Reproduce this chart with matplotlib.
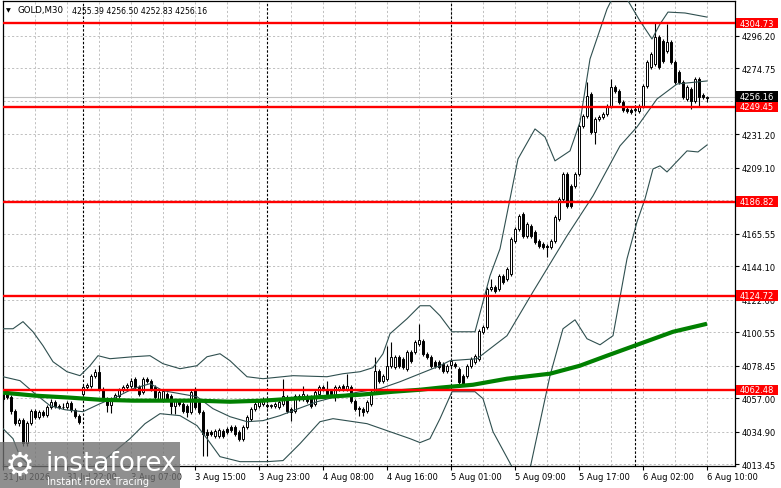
import numpy as np
import matplotlib
matplotlib.use("Agg")
import matplotlib.pyplot as plt
import matplotlib.transforms as mtransforms
from matplotlib.patches import Rectangle

plt.rcParams['font.family'] = ['DejaVu Sans']

# Dados das velas (GOLD M30), barra 0 = 31 Jul 14:00, barra 176 = 6 Aug 10:00
opens = [4056.6, 4059.9, 4057.9, 4048.7, 4040.8, 4042.7, 4027.6, 4040.8, 4048.7, 4044.7,
         4048.0, 4046.0, 4051.3, 4054.6, 4052.0, 4051.3, 4051.3, 4054.0, 4049.3, 4045.4,
         4059.9, 4064.5, 4065.2, 4071.8, 4074.4, 4063.2, 4056.6, 4052.6, 4056.6, 4058.6,
         4062.5, 4064.5, 4065.2, 4069.8, 4064.5, 4061.2, 4069.8, 4068.5, 4064.5, 4056.6,
         4055.9, 4059.9, 4058.6, 4052.0, 4055.3, 4053.3, 4052.0, 4048.0, 4063.2, 4054.6,
         4048.0, 4034.8, 4034.8, 4032.2, 4032.2, 4035.5, 4036.8, 4038.1, 4038.1, 4034.8,
         4030.2, 4038.1, 4043.4, 4050.0, 4052.0, 4053.3, 4052.6, 4052.0, 4052.0, 4051.3,
         4053.3, 4057.9, 4050.0, 4048.7, 4058.6, 4056.6, 4058.6, 4057.9, 4053.3, 4059.9,
         4064.5, 4063.2, 4061.9, 4057.9, 4063.2, 4065.2, 4063.2, 4064.5, 4055.3, 4050.7,
         4050.0, 4048.7, 4053.3, 4061.2, 4075.1, 4068.5, 4069.8, 4078.4, 4077.7, 4084.3,
         4083.0, 4076.4, 4087.6, 4087.6, 4092.9, 4094.9, 4086.3, 4084.3, 4081.0, 4081.0,
         4079.7, 4075.1, 4079.0, 4079.7, 4076.4, 4071.8, 4071.8, 4078.4, 4081.0, 4083.0,
         4100.8, 4104.1, 4129.2, 4130.5, 4129.2, 4137.8, 4135.8, 4139.1, 4160.9, 4168.8,
         4178.7, 4164.2, 4170.8, 4166.8, 4160.9, 4158.9, 4157.6, 4156.9, 4160.9, 4175.4,
         4188.6, 4205.1, 4197.2, 4197.2, 4205.1, 4236.8, 4243.4, 4257.9, 4232.8, 4241.4,
         4242.7, 4244.7, 4250.0, 4262.5, 4259.9, 4252.6, 4248.0, 4247.3, 4247.3, 4246.7,
         4250.0, 4263.2, 4275.7, 4277.7, 4295.5, 4292.9, 4286.3, 4292.2, 4279.0, 4272.4,
         4265.8, 4254.6, 4261.2, 4253.3, 4267.8, 4257.2, 4255.39]
closes = [4059.9, 4057.9, 4048.7, 4040.8, 4042.7, 4027.6, 4040.8, 4048.7, 4044.7, 4048.0,
          4046.0, 4051.3, 4054.6, 4052.0, 4051.3, 4051.3, 4054.0, 4049.3, 4045.4, 4041.4,
          4064.5, 4065.8, 4071.8, 4074.4, 4063.2, 4056.6, 4052.6, 4056.6, 4059.2, 4062.5,
          4064.5, 4065.8, 4068.5, 4064.5, 4059.9, 4069.8, 4068.5, 4063.2, 4057.9, 4061.2,
          4061.9, 4056.6, 4052.0, 4055.3, 4053.3, 4048.7, 4048.0, 4061.2, 4051.3, 4048.0,
          4033.5, 4032.8, 4033.5, 4035.5, 4036.1, 4032.2, 4034.8, 4036.1, 4033.5, 4030.2,
          4038.1, 4044.7, 4050.0, 4053.3, 4054.6, 4056.6, 4052.0, 4052.3, 4053.3, 4054.6,
          4058.6, 4048.7, 4048.0, 4058.6, 4056.6, 4059.9, 4055.3, 4052.0, 4061.2, 4064.5,
          4063.2, 4059.9, 4059.9, 4064.5, 4064.5, 4063.2, 4065.2, 4055.3, 4050.0, 4050.0,
          4048.0, 4054.6, 4061.2, 4075.1, 4068.5, 4071.8, 4078.4, 4084.3, 4084.3, 4078.4,
          4077.7, 4087.6, 4081.7, 4094.2, 4095.5, 4086.3, 4084.3, 4078.4, 4078.4, 4077.7,
          4075.1, 4078.4, 4081.7, 4078.4, 4067.8, 4066.5, 4078.4, 4083.0, 4085.0, 4101.5,
          4104.1, 4129.2, 4130.5, 4127.9, 4137.8, 4133.8, 4142.4, 4162.2, 4168.8, 4177.4,
          4164.2, 4172.1, 4164.2, 4160.2, 4157.6, 4156.9, 4156.9, 4160.9, 4176.7, 4188.6,
          4205.1, 4184.0, 4184.0, 4205.1, 4236.8, 4243.4, 4256.6, 4232.8, 4241.4, 4242.7,
          4244.7, 4250.0, 4262.5, 4259.9, 4252.6, 4247.3, 4246.7, 4246.0, 4248.0, 4250.0,
          4263.2, 4279.0, 4284.3, 4295.5, 4275.7, 4279.7, 4292.2, 4279.0, 4265.8, 4265.8,
          4255.9, 4262.5, 4253.3, 4267.8, 4255.9, 4255.9, 4256.16]
highs = [4061.9, 4061.2, 4059.2, 4050.0, 4044.1, 4044.1, 4042.1, 4050.0, 4050.0, 4049.3,
         4049.3, 4052.6, 4056.6, 4055.9, 4053.3, 4054.0, 4055.3, 4055.3, 4050.7, 4046.7,
         4065.8, 4067.2, 4073.1, 4076.4, 4079.0, 4064.5, 4057.9, 4057.9, 4060.6, 4063.9,
         4065.8, 4067.2, 4070.5, 4071.1, 4065.8, 4071.1, 4071.1, 4069.8, 4065.8, 4062.5,
         4063.2, 4061.2, 4059.9, 4056.6, 4056.6, 4054.6, 4053.3, 4062.5, 4064.5, 4055.9,
         4049.3, 4036.8, 4036.1, 4036.8, 4037.5, 4036.8, 4038.1, 4039.4, 4039.4, 4036.1,
         4039.4, 4046.0, 4051.3, 4054.6, 4055.9, 4057.9, 4054.0, 4053.3, 4054.6, 4055.9,
         4069.8, 4059.2, 4051.3, 4059.9, 4059.9, 4065.2, 4059.9, 4059.2, 4062.5, 4065.8,
         4065.8, 4068.5, 4063.2, 4065.8, 4065.8, 4066.5, 4073.1, 4065.8, 4056.6, 4052.0,
         4051.3, 4055.9, 4062.5, 4084.3, 4076.4, 4073.1, 4091.6, 4094.2, 4085.6, 4085.6,
         4084.3, 4088.9, 4088.9, 4095.5, 4106.1, 4096.2, 4087.6, 4085.6, 4082.3, 4082.3,
         4081.0, 4079.7, 4083.0, 4081.0, 4077.7, 4073.1, 4079.7, 4084.3, 4086.3, 4102.8,
         4105.4, 4130.5, 4135.8, 4131.8, 4139.1, 4139.1, 4143.7, 4163.5, 4170.1, 4178.7,
         4180.0, 4173.4, 4172.1, 4168.1, 4162.2, 4160.2, 4158.9, 4162.2, 4178.0, 4189.9,
         4206.4, 4206.4, 4198.5, 4206.4, 4238.1, 4244.7, 4265.8, 4259.2, 4242.7, 4244.0,
         4246.0, 4251.3, 4267.8, 4263.8, 4261.2, 4253.9, 4249.3, 4248.7, 4249.3, 4251.3,
         4264.5, 4280.3, 4285.6, 4305.4, 4296.8, 4294.2, 4304.1, 4293.5, 4280.3, 4273.7,
         4267.1, 4263.8, 4262.5, 4269.1, 4269.1, 4258.6, 4256.50]
lows = [4054.6, 4056.6, 4046.7, 4039.4, 4038.8, 4025.6, 4025.6, 4039.4, 4043.4, 4043.4,
        4044.7, 4044.7, 4050.0, 4050.7, 4050.0, 4050.0, 4050.0, 4048.0, 4044.1, 4040.1,
        4058.6, 4063.2, 4063.9, 4070.5, 4061.9, 4055.3, 4048.0, 4047.4, 4055.3, 4057.3,
        4061.2, 4063.2, 4063.9, 4063.2, 4058.6, 4059.9, 4067.2, 4061.9, 4056.6, 4055.3,
        4054.6, 4055.3, 4046.7, 4046.7, 4052.0, 4047.4, 4044.7, 4046.7, 4050.0, 4046.7,
        4019.0, 4019.0, 4032.2, 4030.9, 4030.9, 4030.9, 4033.5, 4034.8, 4032.2, 4028.9,
        4028.9, 4036.8, 4042.1, 4048.7, 4050.7, 4052.0, 4050.7, 4050.7, 4050.7, 4050.0,
        4052.0, 4047.4, 4042.1, 4047.4, 4055.3, 4055.3, 4054.0, 4050.7, 4052.0, 4058.6,
        4061.9, 4058.6, 4058.6, 4055.3, 4061.9, 4061.9, 4061.9, 4054.0, 4048.7, 4045.4,
        4045.4, 4047.4, 4052.0, 4059.9, 4067.2, 4067.2, 4068.5, 4077.1, 4076.4, 4077.1,
        4076.4, 4075.1, 4080.4, 4086.3, 4091.6, 4085.0, 4083.0, 4077.1, 4077.1, 4076.4,
        4073.8, 4073.8, 4077.7, 4077.1, 4066.5, 4065.2, 4070.5, 4077.1, 4079.7, 4081.7,
        4099.5, 4102.8, 4127.9, 4126.6, 4127.9, 4132.5, 4134.5, 4137.8, 4159.6, 4167.5,
        4162.9, 4162.9, 4162.9, 4158.9, 4156.3, 4155.6, 4150.3, 4155.6, 4159.6, 4174.1,
        4187.3, 4182.7, 4182.7, 4195.9, 4203.8, 4235.5, 4242.1, 4231.5, 4224.9, 4240.1,
        4241.4, 4243.4, 4248.7, 4258.6, 4251.3, 4246.0, 4245.4, 4244.7, 4246.0, 4245.4,
        4248.7, 4261.9, 4274.4, 4276.4, 4274.4, 4278.4, 4285.0, 4277.7, 4264.5, 4264.5,
        4254.6, 4253.3, 4248.0, 4252.0, 4249.3, 4254.6, 4252.83]

bb_up_x = [0, 2.5, 5, 7.5, 10, 12.5, 16, 19.25, 21.75, 23.75, 26.75, 32.5, 36.75, 40, 44.25,
           48.5, 51, 54.25, 56.75, 61, 65, 72.5, 81, 85, 89.25, 92.5, 95, 96.75, 101, 104.25,
           106.75, 109.25, 112.25, 118, 121.75, 124.25, 128.75, 133, 135.5, 138, 141.75,
           144.25, 146.75, 151, 153.5, 156, 159.25, 162.25, 164.25, 166.25, 170.5, 176]
bb_up = [4102.8, 4102.8, 4107.5, 4100.8, 4091.6, 4081.0, 4074.4, 4071.8, 4078.4, 4085.0,
         4083.0, 4084.3, 4085.0, 4079.7, 4076.4, 4078.4, 4084.3, 4086.3, 4081.7, 4071.1,
         4069.8, 4071.8, 4071.1, 4073.1, 4074.4, 4077.1, 4086.3, 4099.5, 4109.4, 4118.0,
         4118.0, 4111.4, 4100.8, 4100.8, 4137.8, 4155.6, 4215.0, 4234.8, 4229.5, 4213.7,
         4220.3, 4239.4, 4281.0, 4314.0, 4327.2, 4320.6, 4306.1, 4294.2, 4304.1, 4312.0,
         4311.4, 4308.7]
bb_mid_x = [0, 4.25, 8, 11.75, 15.5, 20, 24.25, 28.5, 32.5, 36.75, 40, 44.25, 48.5, 52.5,
            56.75, 61, 65, 69.25, 72.5, 78.5, 84.25, 89.25, 94.25, 99.25, 104.25, 109.25,
            111.75, 118.5, 121.75, 126, 132.5, 141, 147.5, 154.25, 158.5, 163.5, 168.5, 176]
bb_mid = [4071.1, 4068.5, 4059.9, 4052.0, 4049.3, 4048.0, 4053.3, 4057.9, 4063.2, 4066.5,
          4061.9, 4059.9, 4057.9, 4050.0, 4044.7, 4041.4, 4042.1, 4045.4, 4048.7, 4054.6,
          4058.6, 4061.2, 4063.2, 4067.8, 4073.1, 4078.4, 4081.7, 4083.0, 4089.6, 4098.2,
          4127.2, 4164.2, 4190.6, 4223.6, 4236.1, 4254.6, 4264.5, 4266.5]
bb_low_x = [0, 2.5, 4.25, 8, 16.75, 24.25, 31.75, 35.5, 39.25, 44.25, 48.5, 51, 54.25, 59.25,
            66, 70, 74.25, 79.25, 82.5, 91, 96.75, 101.75, 104.25, 106.75, 109.25, 112.25,
            118, 120, 122.5, 127.5, 131.75, 136.75, 140, 143, 146, 149.25, 152.5, 156,
            158.5, 160.5, 162.5, 164.25, 166, 171, 173.75, 176]
bb_low = [4036.8, 4030.2, 4018.3, 4009.1, 4005.1, 4013.7, 4030.2, 4040.1, 4046.7, 4045.4,
          4038.8, 4030.2, 4018.3, 4015.0, 4015.0, 4015.7, 4026.9, 4041.4, 4043.4, 4040.1,
          4034.8, 4030.2, 4027.6, 4030.2, 4043.4, 4061.2, 4061.2, 4056.6, 4034.8, 4010.4,
          4010.4, 4071.8, 4102.8, 4108.7, 4096.2, 4092.2, 4098.2, 4149.0, 4173.4, 4188.6,
          4208.4, 4210.4, 4206.4, 4220.3, 4219.6, 4224.2]

# Média móvel (linha verde)
ma_x = [0, 8, 16.75, 24.25, 32.5, 40, 48.5, 56.75, 65, 72.5, 81, 89.25, 97.5, 104.25,
        109.25, 117.5, 126, 136.75, 144.25, 151, 159.25, 167.5, 176]
ma = [4060.6, 4058.6, 4057.3, 4055.9, 4055.3, 4055.3, 4055.3, 4054.6, 4055.3, 4056.6,
      4057.9, 4059.2, 4061.2, 4062.5, 4063.9, 4065.8, 4069.8, 4073.1, 4078.4, 4085.0,
      4092.9, 4100.8, 4106.1]

# Níveis horizontais e preço atual
levels = [4304.73, 4249.45, 4186.82, 4124.72, 4062.48]
bid = 4256.16
y_ticks = [4013.45, 4034.90, 4057.00, 4078.45, 4100.55, 4122.00, 4144.10, 4165.55,
           4187.65, 4209.10, 4231.20, 4253.30, 4274.75, 4296.20]
y_hidden = [4187.65, 4253.30]  # escondidos atrás das etiquetas
x_labels = ["31 Jul 2026", "31 Jul 22:00", "3 Aug 07:00", "3 Aug 15:00", "3 Aug 23:00",
            "4 Aug 08:00", "4 Aug 16:00", "5 Aug 01:00", "5 Aug 09:00", "5 Aug 17:00",
            "6 Aug 02:00", "6 Aug 10:00"]
day_breaks = [20, 66, 112, 158]

W, H = 781, 489
fig = plt.figure(figsize=(W / 100, H / 100), dpi=100)
ax = fig.add_axes([3 / W, 22 / H, 732 / W, 465 / H])
ax.set_xlim(0, 183)
ax.set_ylim(4012.13, 4319.32)

fs = 6.0
grid_kw = dict(color='#c0c0c0', linestyle=(0, (2.2, 2.2)), linewidth=0.7)

# Grade
ax.set_xticks(np.arange(0, 177, 16))
ax.set_xticklabels(x_labels, fontsize=fs, ha='left')
ax.set_xticks(np.arange(0, 184, 8), minor=True)
ax.tick_params(axis='x', which='major', length=3, width=0.8, pad=1.5)
ax.tick_params(axis='x', which='minor', length=0)
ax.yaxis.tick_right()
ax.set_yticks(y_ticks)
ax.set_yticklabels(["" if v in y_hidden else f"{v:.2f}" for v in y_ticks], fontsize=fs)
ax.tick_params(axis='y', length=3, width=0.8, pad=2)
ax.grid(True, which='both', axis='x', zorder=0, **grid_kw)
ax.grid(True, which='major', axis='y', zorder=0, **grid_kw)
ax.set_axisbelow(True)
for s in ax.spines.values():
    s.set_color('black')
    s.set_linewidth(0.9)

# Separadores de dia
for d in day_breaks:
    ax.axvline(d, color='black', linestyle=(0, (2.2, 1.6)), linewidth=0.8, zorder=1)

# Linha do bid
ax.axhline(bid, color='#c0c0c0', linewidth=0.8, zorder=1.2)

# Velas
o = np.array(opens)
c = np.array(closes)
idx = np.arange(len(o))
ax.vlines(idx, lows, highs, color='black', linewidth=0.8, zorder=2)
cores = ['white' if cc >= oo else 'black' for oo, cc in zip(o, c)]
ax.bar(idx, np.abs(c - o), bottom=np.minimum(o, c), width=0.7, color=cores,
       edgecolor='black', linewidth=0.7, zorder=2.2)

# Indicadores
band_kw = dict(color='#2f4f4f', linewidth=0.8, zorder=3)
ax.plot(bb_up_x, bb_up, **band_kw)
ax.plot(bb_mid_x, bb_mid, **band_kw)
ax.plot(bb_low_x, bb_low, **band_kw)
ax.plot(ma_x, ma, color='#008000', linewidth=3.0, solid_capstyle='butt', zorder=4)

# Níveis
trans = mtransforms.blended_transform_factory(ax.transAxes, ax.transData)
for lv in levels:
    ax.axhline(lv, color='#ff0000', linewidth=1.7, zorder=5)
    ax.add_patch(Rectangle((1.0014, lv - 3.4), 0.0574, 6.8, transform=trans,
                           facecolor='#ff0000', edgecolor='none', clip_on=False, zorder=10))
    ax.text(1.0068, lv, f"{lv:.2f}", transform=trans, color='white', fontsize=fs,
            va='center', ha='left', clip_on=False, zorder=11)
ax.add_patch(Rectangle((1.0014, bid - 3.4), 0.0574, 6.8, transform=trans,
                       facecolor='black', edgecolor='none', clip_on=False, zorder=10))
ax.text(1.0068, bid, f"{bid:.2f}", transform=trans, color='white', fontsize=fs,
        va='center', ha='left', clip_on=False, zorder=11)

# Cabeçalho
fig.text(6 / W, 1 - 11 / H, "▼", fontsize=4.5, va='center', ha='left', color='black')
fig.text(18 / W, 1 - 11 / H, "GOLD,M30", fontsize=6.2, va='center', ha='left', color='black')
fig.text(72 / W, 1 - 11 / H, "4255.39 4256.50 4252.83 4256.16", fontsize=5.6,
         va='center', ha='left', color='black')

# Marca d'água
fig.add_artist(Rectangle((0, 0), 180 / W, 46 / H, transform=fig.transFigure,
                         facecolor='#707070', edgecolor='none', alpha=0.78, zorder=20))
fig.text(5 / W, 1 - 466 / H, "⚙", fontsize=24, color='white', va='center', ha='left', zorder=21)
fig.text(46 / W, 1 - 471 / H, "instaforex", fontsize=19, color='white', va='baseline',
         ha='left', zorder=21)
fig.text(47 / W, 1 - 482 / H, "Instant Forex Tracing", fontsize=7, color='white',
         va='center', ha='left', zorder=21)

fig.savefig("out.png", dpi=100)
